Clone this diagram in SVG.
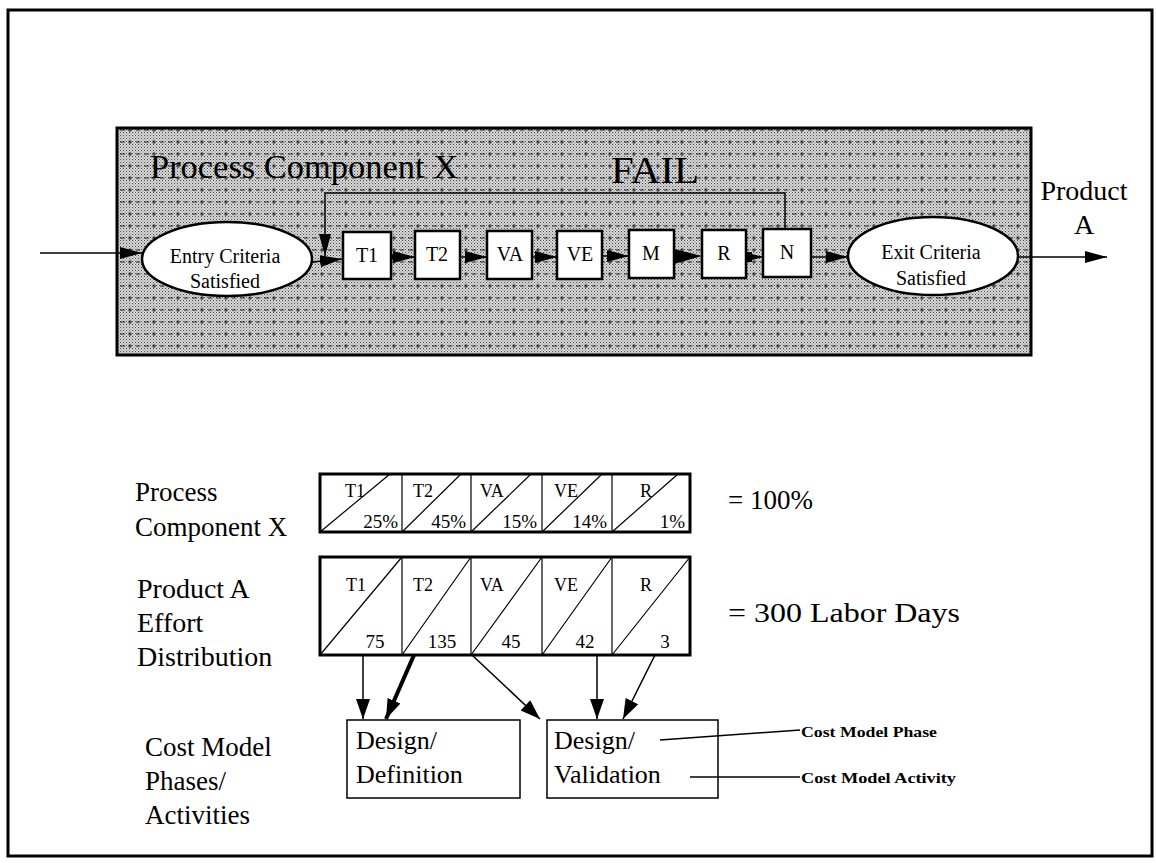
<svg xmlns="http://www.w3.org/2000/svg" width="1156" height="863" viewBox="0 0 1156 863">
<defs>
<style>
.t{font-family:"Liberation Serif","Times New Roman",serif;fill:#000}
.box{fill:#fff;stroke:#000;stroke-width:2.5}
.ln{fill:none;stroke:#000;stroke-width:1.5}
.cell{fill:none;stroke:#000;stroke-width:1.2}
.tab{fill:#fff;stroke:#000;stroke-width:3}
</style>
<pattern id="dots" width="3" height="3" patternUnits="userSpaceOnUse">
<rect width="3" height="3" fill="#d6d6d6"/>
<rect x="0" y="0" width="1" height="1" fill="#4a4a4a"/>
<rect x="1.5" y="1.5" width="1" height="1" fill="#7a7a7a"/>
</pattern>
<pattern id="dash" width="24" height="12" patternUnits="userSpaceOnUse" y="4">
<path d="M0,6 H5 M8,6 H12 M16,6 H20" stroke="#222" stroke-width="1"/>
<path d="M10,4 V8" stroke="#222" stroke-width="1"/>
</pattern>
<marker id="ah" markerUnits="userSpaceOnUse" markerWidth="22" markerHeight="14" refX="22" refY="7" orient="auto">
<path d="M0,1 L22,7 L0,13 z" fill="#000"/>
</marker>
<marker id="ab" markerUnits="userSpaceOnUse" markerWidth="22" markerHeight="16" refX="20" refY="8" orient="auto">
<path d="M0,1 L20,8 L0,15 z" fill="#000"/>
</marker>
</defs>

<rect x="0" y="0" width="1156" height="863" fill="#fff"/>
<g id="frame"><rect x="8" y="10" width="1144" height="846" fill="none" stroke="#000" stroke-width="3"/></g>

<g id="process-component">
<rect x="117" y="128" width="914" height="227" fill="url(#dots)"/>
<rect x="117" y="128" width="914" height="227" fill="url(#dash)"/>
<rect x="117" y="128" width="914" height="227" fill="none" stroke="#000" stroke-width="3"/>
<text class="t" x="150" y="178" font-size="34" textLength="308" lengthAdjust="spacingAndGlyphs">Process Component X</text>
</g>

<g id="connectors">
<line class="ln" x1="40" y1="253" x2="142" y2="253" marker-end="url(#ah)"/>
<line class="ln" x1="312" y1="262" x2="342" y2="259" marker-end="url(#ah)"/>
<polyline class="ln" points="785,229 785,193 325,193 325,256" marker-end="url(#ah)"/>
<line class="ln" x1="391" y1="257" x2="415" y2="257" marker-end="url(#ah)"/>
<circle cx="394" cy="257" r="3"/>
<line class="ln" x1="460" y1="257" x2="487" y2="257" marker-end="url(#ah)"/>
<line class="ln" x1="532" y1="257" x2="557" y2="257" marker-end="url(#ah)"/>
<line class="ln" x1="602" y1="256" x2="629" y2="256" marker-end="url(#ah)"/>
<polygon points="674,249 702,256 674,264" fill="#000"/>
<rect x="746" y="252" width="6" height="10" fill="#000"/>
<line class="ln" x1="750" y1="257" x2="763" y2="257" marker-end="url(#ah)"/>
<line class="ln" x1="811" y1="257" x2="848" y2="257" marker-end="url(#ah)"/>
<line class="ln" x1="1018" y1="257" x2="1107" y2="257" marker-end="url(#ah)"/>

<line class="ln" x1="363" y1="655" x2="363" y2="719" marker-end="url(#ab)"/>
<line x1="414" y1="655" x2="386" y2="719" stroke="#000" stroke-width="4" marker-end="url(#ab)"/>
<line class="ln" x1="472" y1="655" x2="540" y2="719" marker-end="url(#ab)"/>
<line class="ln" x1="597" y1="655" x2="597" y2="719" marker-end="url(#ab)"/>
<line class="ln" x1="655" y1="655" x2="623" y2="719" marker-end="url(#ab)"/>

<line class="ln" x1="660" y1="740" x2="800" y2="730"/>
<line class="ln" x1="690" y1="777" x2="800" y2="777"/>
</g>

<g id="fail-label"><text class="t" x="611" y="183" font-size="37" textLength="88" lengthAdjust="spacingAndGlyphs">FAIL</text></g>

<g id="entry">
<ellipse cx="227" cy="259" rx="85" ry="37" class="box"/>
<text class="t" x="225" y="263" font-size="20" text-anchor="middle">Entry Criteria</text>
<text class="t" x="225" y="288" font-size="20" text-anchor="middle">Satisfied</text>
</g>
<g id="T1"><rect class="box" x="343" y="232" width="48" height="47"/><text class="t" x="367" y="262" font-size="20" text-anchor="middle">T1</text></g>
<g id="T2"><rect class="box" x="415" y="231" width="45" height="48"/><text class="t" x="437" y="261" font-size="20" text-anchor="middle">T2</text></g>
<g id="VA"><rect class="box" x="487" y="231" width="45" height="48"/><text class="t" x="510" y="261" font-size="20" text-anchor="middle">VA</text></g>
<g id="VE"><rect class="box" x="557" y="231" width="45" height="48"/><text class="t" x="580" y="261" font-size="20" text-anchor="middle">VE</text></g>
<g id="M"><rect class="box" x="629" y="230" width="45" height="48"/><text class="t" x="651" y="260" font-size="20" text-anchor="middle">M</text></g>
<g id="R"><rect class="box" x="702" y="230" width="44" height="48"/><text class="t" x="724" y="260" font-size="20" text-anchor="middle">R</text></g>
<g id="N"><rect class="box" x="763" y="229" width="48" height="48"/><text class="t" x="787" y="259" font-size="20" text-anchor="middle">N</text></g>
<g id="exit">
<ellipse cx="933" cy="256" rx="85" ry="39" class="box"/>
<text class="t" x="931" y="259" font-size="20" text-anchor="middle">Exit Criteria</text>
<text class="t" x="931" y="285" font-size="20" text-anchor="middle">Satisfied</text>
</g>
<g id="product-a">
<text class="t" x="1084" y="200" font-size="28" text-anchor="middle">Product</text>
<text class="t" x="1084" y="234" font-size="28" text-anchor="middle">A</text>
</g>

<g id="label-process">
<text class="t" x="135" y="501" font-size="27">Process</text>
<text class="t" x="135" y="536" font-size="27">Component X</text>
</g>
<g id="table-percent">
<rect class="tab" x="320" y="474" width="370" height="58"/>
<path class="cell" d="M402,474 V532 M471,474 V532 M542,474 V532 M612,474 V532"/>
<path class="cell" d="M320,532 L390,474 M402,532 L461,474 M471,532 L531,474 M542,532 L602,474 M612,532 L678,474"/>
<g class="t" font-size="18">
<text x="345" y="497">T1</text><text x="413" y="497">T2</text><text x="480" y="497">VA</text><text x="554" y="497">VE</text><text x="640" y="497">R</text>
</g>
<g class="t" font-size="19" text-anchor="end">
<text x="398" y="528">25%</text><text x="466" y="528">45%</text><text x="537" y="528">15%</text><text x="607" y="528">14%</text><text x="685" y="528">1%</text>
</g>
</g>
<g id="total-percent"><text class="t" x="728" y="509" font-size="27">= 100%</text></g>

<g id="label-product">
<text class="t" x="137" y="598" font-size="28">Product A</text>
<text class="t" x="137" y="632" font-size="28">Effort</text>
<text class="t" x="137" y="666" font-size="28">Distribution</text>
</g>
<g id="table-days">
<rect class="tab" x="320" y="557" width="370" height="98"/>
<path class="cell" d="M402,557 V655 M471,557 V655 M542,557 V655 M612,557 V655"/>
<path class="cell" d="M320,655 L402,557 M402,655 L471,557 M471,655 L542,557 M542,655 L612,557 M612,655 L690,557"/>
<g class="t" font-size="18">
<text x="346" y="591">T1</text><text x="413" y="591">T2</text><text x="480" y="591">VA</text><text x="554" y="591">VE</text><text x="640" y="591">R</text>
</g>
<g class="t" font-size="19" text-anchor="middle">
<text x="375" y="648">75</text><text x="442" y="648">135</text><text x="511" y="648">45</text><text x="585" y="648">42</text><text x="665" y="648">3</text>
</g>
</g>
<g id="total-days"><text class="t" x="728" y="622" font-size="28" textLength="232" lengthAdjust="spacingAndGlyphs">= 300 Labor Days</text></g>

<g id="label-cost">
<text class="t" x="145" y="756" font-size="27">Cost Model</text>
<text class="t" x="145" y="790" font-size="27">Phases/</text>
<text class="t" x="145" y="824" font-size="27">Activities</text>
</g>
<g id="design-definition">
<rect x="347" y="720" width="173" height="78" fill="#fff" stroke="#000" stroke-width="1.5"/>
<text class="t" x="356" y="749" font-size="26">Design/</text>
<text class="t" x="356" y="783" font-size="26">Definition</text>
</g>
<g id="design-validation">
<rect x="547" y="720" width="171" height="78" fill="none" stroke="#000" stroke-width="1.5"/>
<text class="t" x="554" y="749" font-size="26">Design/</text>
<text class="t" x="554" y="783" font-size="26">Validation</text>
</g>
<g id="annotations">
<text class="t" x="801" y="737" font-size="15" font-weight="bold" textLength="136" lengthAdjust="spacingAndGlyphs">Cost Model Phase</text>
<text class="t" x="801" y="783" font-size="15" font-weight="bold" textLength="155" lengthAdjust="spacingAndGlyphs">Cost Model Activity</text>
</g>
</svg>
